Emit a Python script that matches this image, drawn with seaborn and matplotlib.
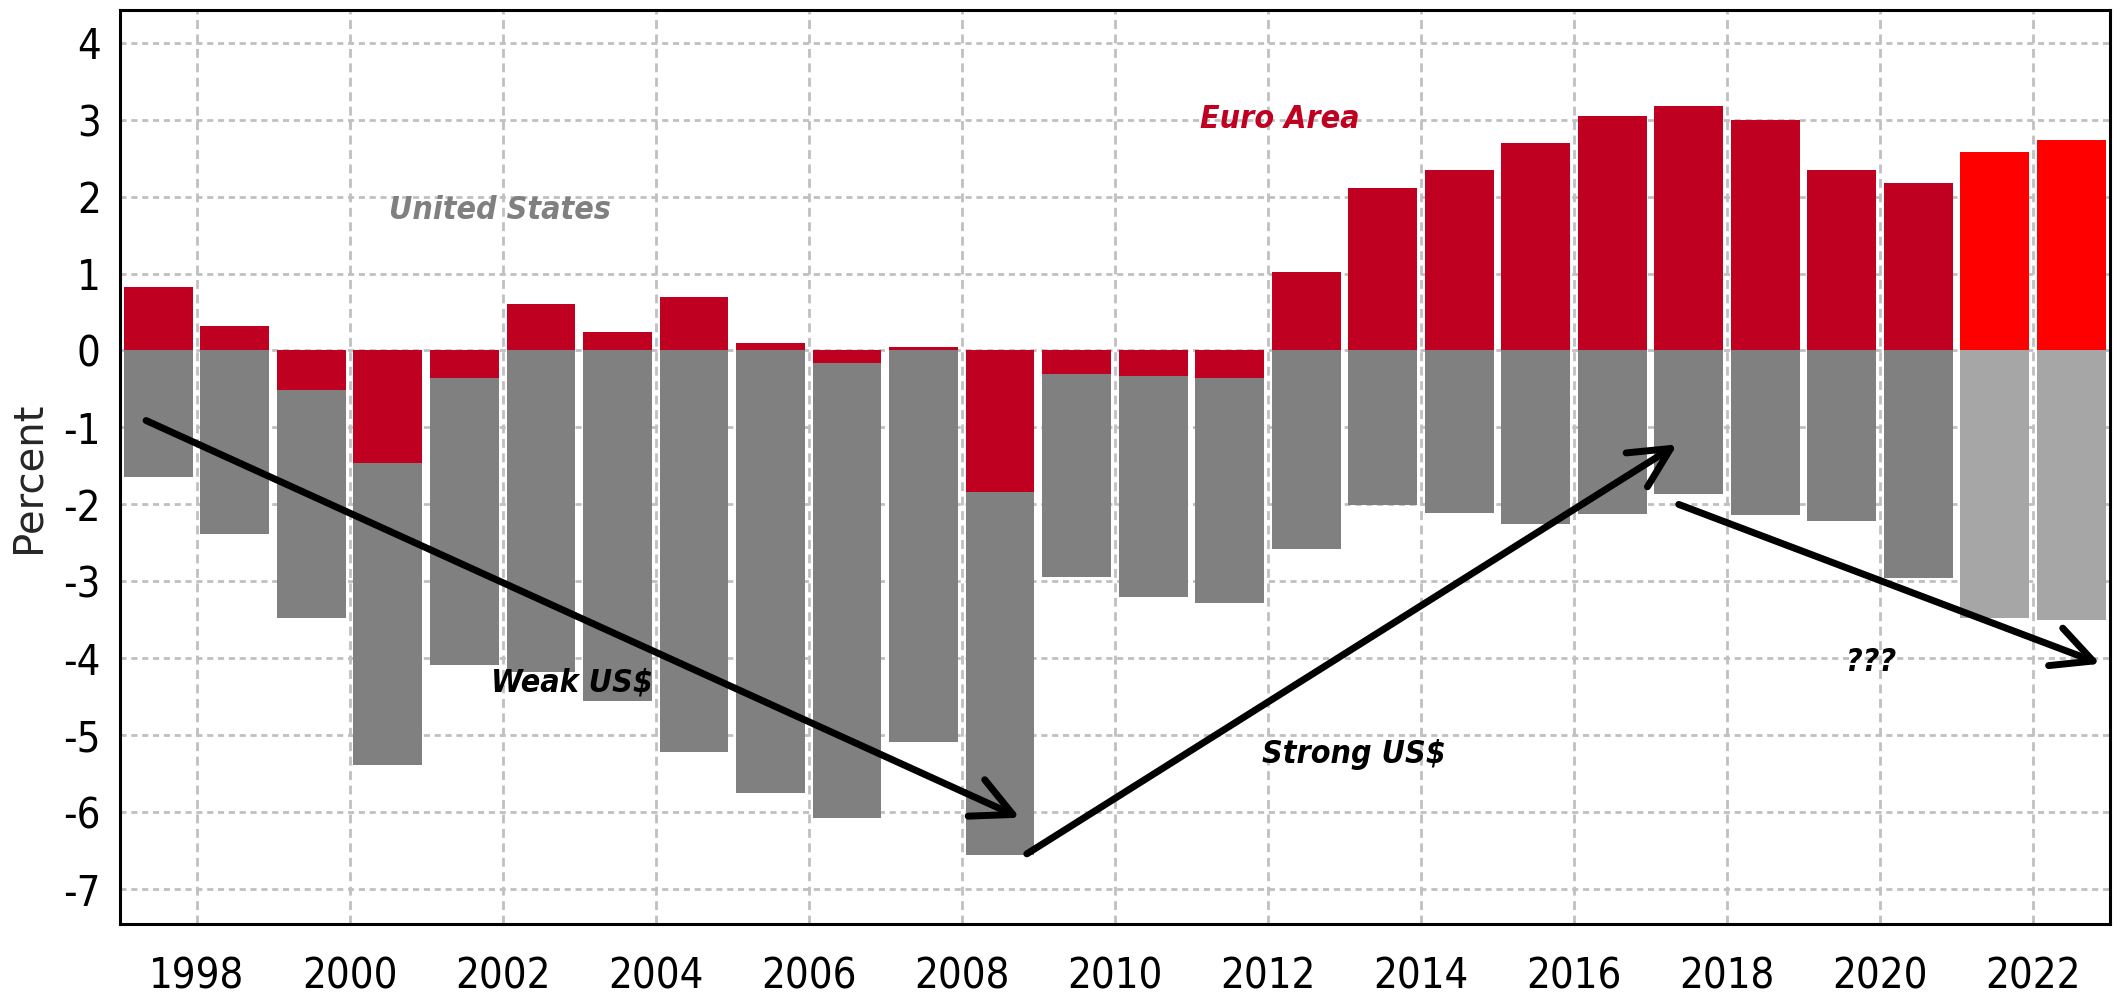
import numpy as np
import pandas as pd
import seaborn as sns
import matplotlib.pyplot as plt

years = list(range(1997, 2023))
euro_area = [0.82, 0.32, -0.51, -1.46, -0.36, 0.60, 0.24, 0.70, 0.10, -0.16,
             0.04, -1.84, -0.31, -0.33, -0.36, 1.02, 2.11, 2.34, 2.70, 3.05,
             3.17, 2.99, 2.35, 2.17, 2.58, 2.74]
united_states = [-1.64, -2.38, -2.97, -3.92, -3.72, -4.18, -4.56, -5.21, -5.75, -5.91,
                 -5.09, -4.71, -2.63, -2.87, -2.92, -2.58, -2.01, -2.11, -2.25, -2.13,
                 -1.86, -2.14, -2.22, -2.95, -3.47, -3.50]
forecast = [False] * 24 + [True] * 2
tick_years = list(range(1998, 2023, 2))

# arrows: (start year, start value, end year, end value)
arrows = [(1997.34, -0.91, 2008.76, -6.07),
          (2008.85, -6.54, 2017.35, -1.22),
          (2017.37, -2.00, 2022.88, -4.07)]
notes = [("United States", 2001.96, 1.82, "#808080"),
         ("Euro Area", 2012.15, 3.00, "#C00020"),
         ("Weak US$", 2002.91, -4.32, "black"),
         ("Strong US$", 2013.13, -5.25, "black"),
         ("???", 2019.88, -4.05, "black")]

sns.set_style("white")
plt.rcParams['font.family'] = ['DejaVu Sans']
plt.rcParams['font.stretch'] = 'condensed'

df = pd.DataFrame({'year': [str(y) for y in years], 'ea': euro_area, 'us': united_states})
# negative euro-area values stack under zero, US bar continues below them
df['us_stack'] = df['ea'].clip(upper=0) + df['us']

ea_pal = {str(y): ('#FF0000' if f else '#C00020') for y, f in zip(years, forecast)}
us_pal = {str(y): ('#A6A6A6' if f else '#808080') for y, f in zip(years, forecast)}

fig = plt.figure(figsize=(21.18, 10.01), dpi=100)
ax = fig.add_axes([0.0567, 0.077, 0.9393, 0.9135])

sns.barplot(data=df, x='year', y='us_stack', hue='year', palette=us_pal, width=0.9,
            saturation=1, legend=False, linewidth=0, ax=ax)
sns.barplot(data=df, x='year', y='ea', hue='year', palette=ea_pal, width=0.9,
            saturation=1, legend=False, linewidth=0, ax=ax)

def pos(y):
    return y - years[0] - 0.5

ax.set_xlim(pos(1997), pos(2023))
ax.set_ylim(-7.45, 4.43)
ax.set_xticks([pos(y) for y in tick_years])
ax.set_xticklabels([str(y) for y in tick_years])
ax.set_yticks(range(-7, 5))
ax.set_yticklabels([str(v) for v in range(-7, 5)])
ax.tick_params(axis='both', labelsize=30, direction='out', width=2, colors='black')
ax.tick_params(axis='x', length=13, pad=10)
ax.tick_params(axis='y', length=9, pad=5)
ax.set_axisbelow(True)
ax.grid(True, axis='x', color='#C0C0C0', linestyle=(0, (3.2, 2.0)), linewidth=2)
ax.grid(True, axis='y', color='#C0C0C0', linestyle=(0, (2.2, 1.7)), linewidth=2)
for s in ax.spines.values():
    s.set_color('black')
    s.set_linewidth(2.2)

ax.set_xlabel("")
ax.set_ylabel("Percent", fontsize=29, fontstretch='normal')
ax.yaxis.set_label_coords(-0.036, 0.489)

for x0, y0, x1, y1 in arrows:
    ax.annotate("", xy=(pos(x1), y1), xytext=(pos(x0), y0),
                arrowprops=dict(arrowstyle='->,head_length=0.9,head_width=0.45',
                                lw=5, color='black', mutation_scale=32,
                                shrinkA=0, shrinkB=0))

for txt, x, y, c in notes:
    ax.text(pos(x), y, txt, color=c, fontsize=23, fontstyle='italic', fontweight='semibold',
            ha='center', va='center')

fig.savefig("out.png", dpi=100)
